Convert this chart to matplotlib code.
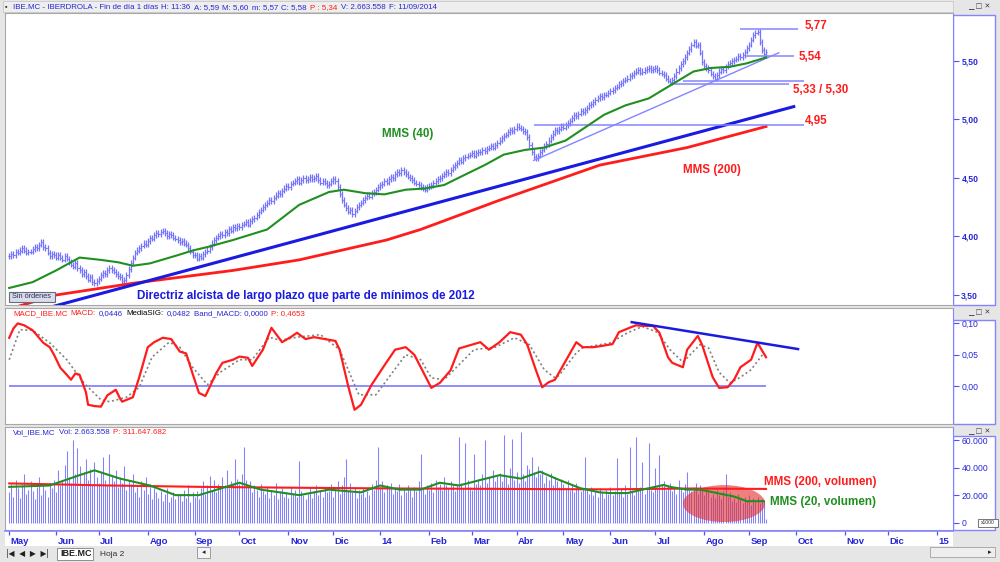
import numpy as np
import pandas as pd
import matplotlib
matplotlib.use('Agg')
import matplotlib.pyplot as plt
from matplotlib.patches import Ellipse, Rectangle

plt.rcParams['font.family'] = ['Liberation Sans', 'DejaVu Sans']

W, H = 1000, 562

# daily closes IBE.MC, 02/05/2013 .. 11/09/2014
close = [
    3.83, 3.85, 3.84, 3.87, 3.86, 3.88, 3.90, 3.88, 3.86, 3.87,
    3.87, 3.89, 3.91, 3.90, 3.93, 3.95, 3.91, 3.90, 3.86, 3.83,
    3.85, 3.84, 3.82, 3.84, 3.82, 3.80, 3.83, 3.81, 3.78, 3.76,
    3.74, 3.77, 3.73, 3.71, 3.68, 3.70, 3.66, 3.63, 3.65, 3.61,
    3.60, 3.62, 3.64, 3.67, 3.69, 3.68, 3.71, 3.73, 3.71, 3.70,
    3.68, 3.66, 3.65, 3.62, 3.63, 3.67, 3.72, 3.77, 3.82, 3.86,
    3.88, 3.90, 3.92, 3.94, 3.93, 3.96, 3.99, 3.98, 4.01, 4.03,
    4.02, 4.04, 4.05, 4.03, 4.00, 4.02, 4.01, 3.99, 3.98, 3.97,
    3.95, 3.96, 3.94, 3.93, 3.90, 3.87, 3.84, 3.84, 3.81, 3.83,
    3.82, 3.85, 3.87, 3.88, 3.91, 3.94, 3.97, 3.99, 4.00, 4.02,
    4.01, 4.04, 4.03, 4.06, 4.05, 4.08, 4.07, 4.09, 4.08, 4.10,
    4.11, 4.12, 4.10, 4.13, 4.15, 4.16, 4.18, 4.21, 4.23, 4.25,
    4.27, 4.29, 4.31, 4.30, 4.33, 4.35, 4.37, 4.36, 4.39, 4.41,
    4.43, 4.42, 4.45, 4.46, 4.47, 4.49, 4.46, 4.48, 4.50, 4.48,
    4.49, 4.51, 4.49, 4.50, 4.52, 4.48, 4.46, 4.47, 4.46, 4.44,
    4.45, 4.47, 4.49, 4.47, 4.42, 4.36, 4.31, 4.27, 4.24, 4.21,
    4.23, 4.19, 4.22, 4.25, 4.27, 4.29, 4.31, 4.33, 4.35, 4.34,
    4.37, 4.38, 4.40, 4.42, 4.44, 4.45, 4.47, 4.46, 4.49, 4.51,
    4.50, 4.53, 4.55, 4.54, 4.57, 4.55, 4.53, 4.51, 4.50, 4.48,
    4.46, 4.45, 4.44, 4.42, 4.41, 4.40, 4.42, 4.43, 4.44, 4.46,
    4.47, 4.49, 4.50, 4.52, 4.53, 4.55, 4.54, 4.57, 4.59, 4.61,
    4.63, 4.65, 4.64, 4.67, 4.68, 4.69, 4.70, 4.71, 4.69, 4.71,
    4.72, 4.72, 4.74, 4.73, 4.75, 4.76, 4.77, 4.76, 4.78, 4.80,
    4.82, 4.84, 4.86, 4.87, 4.89, 4.91, 4.90, 4.92, 4.94, 4.93,
    4.92, 4.90, 4.89, 4.85, 4.78, 4.72, 4.68, 4.67, 4.69, 4.72,
    4.74, 4.77, 4.79, 4.82, 4.85, 4.88, 4.91, 4.90, 4.92, 4.94,
    4.93, 4.95, 4.97, 4.99, 5.01, 5.04, 5.03, 5.05, 5.07, 5.06,
    5.08, 5.10, 5.12, 5.13, 5.15, 5.17, 5.18, 5.20, 5.19, 5.21,
    5.21, 5.23, 5.24, 5.25, 5.27, 5.28, 5.30, 5.31, 5.33, 5.34,
    5.35, 5.37, 5.38, 5.40, 5.41, 5.42, 5.40, 5.41, 5.42, 5.43,
    5.44, 5.42, 5.43, 5.44, 5.42, 5.40, 5.39, 5.38, 5.35, 5.33,
    5.32, 5.34, 5.37, 5.41, 5.44, 5.47, 5.50, 5.53, 5.57, 5.60,
    5.64, 5.66, 5.63, 5.64, 5.57, 5.49, 5.46, 5.44, 5.42, 5.39,
    5.37, 5.35, 5.38, 5.41, 5.43, 5.42, 5.45, 5.47, 5.48, 5.50,
    5.51, 5.52, 5.54, 5.53, 5.55, 5.58, 5.61, 5.64, 5.68, 5.72,
    5.74, 5.75, 5.66, 5.59, 5.56, 5.58,
]

# daily volume, thousands of shares
volume = [
    22, 28, 19, 31, 25, 18, 27, 35, 21, 24,
    30, 23, 17, 26, 33, 20, 28, 24, 19, 29,
    25, 31, 22, 38, 27, 30, 42, 52, 33, 29,
    60, 35, 54, 41, 28, 37, 46, 31, 39, 27,
    44, 33, 29, 36, 48, 31, 27, 50, 34, 30,
    38, 26, 33, 29, 41, 24, 31, 28, 35, 22,
    26, 19, 30, 24, 33, 21, 28, 17, 25, 22,
    18, 23, 16, 21, 25, 15, 19, 22, 17, 20,
    21, 16, 24, 18, 27, 15, 22, 19, 23, 17,
    25, 30, 21, 27, 34, 24, 31, 22, 28, 26,
    33, 27, 38, 25, 30, 29, 46, 32, 28, 35,
    55, 31, 26, 30, 22, 27, 24, 19, 28, 23,
    21, 26, 18, 24, 20, 29, 17, 23, 25, 19,
    22, 18, 26, 21, 24, 19, 45, 23, 20, 17,
    21, 25, 18, 23, 27, 20, 24, 19, 26, 22,
    23, 28, 19, 25, 30, 21, 27, 33, 46, 24,
    29, 22, 26, 18, 24, 21, 25, 19, 23, 20,
    28, 24, 31, 55, 26, 30, 22, 27, 25, 29,
    21, 26, 23, 28, 20, 25, 22, 27, 24, 19,
    26, 23, 30, 50, 25, 21, 27, 24, 29, 22,
    31, 26, 28, 24, 33, 27, 25, 30, 28, 23,
    27, 62, 29, 25, 58, 31, 26, 24, 50, 28,
    32, 27, 35, 60, 29, 33, 26, 38, 30, 34,
    36, 30, 64, 33, 28, 40, 61, 31, 37, 29,
    66, 35, 30, 42, 39, 48, 37, 33, 41, 35,
    38, 29, 34, 31, 36, 27, 33, 30, 26, 32,
    28, 25, 31, 24, 27, 22, 29, 26, 23, 25,
    48, 24, 21, 26, 20, 23, 19, 25, 22, 18,
    24, 21, 26, 20, 23, 47, 22, 25, 19, 27,
    21, 55, 24, 20, 62, 23, 26, 44, 21, 25,
    58, 24, 22, 40, 26, 49, 28, 30, 24, 27,
    29, 23, 26, 21, 31, 25, 22, 28, 37, 24,
    23, 26, 29, 21, 27, 24, 20, 25, 22, 19,
    21, 18, 24, 20, 17, 23, 35, 19, 22, 16,
    18, 15, 21, 17, 14, 19, 16, 20, 13, 18,
    15, 19, 14, 17, 16, 2.7,
]
assert len(close) == len(volume), (len(close), len(volume))

# moving averages as plotted (bar index, value)
ma40_idx = [0, 11, 22, 33, 43, 51, 58, 66, 79, 86, 93, 105, 121, 136, 150, 157, 167, 176, 186,
            195, 204, 214, 223, 232, 242, 251, 261, 270, 279, 289, 300, 310, 321, 329, 338, 346, 355]
ma40_val = [3.56, 3.61, 3.71, 3.82, 3.80, 3.78, 3.75, 3.77, 3.84, 3.88, 3.91, 3.97, 4.06, 4.27, 4.38,
            4.40, 4.37, 4.36, 4.40, 4.41, 4.44, 4.53, 4.61, 4.70, 4.74, 4.76, 4.82, 4.93, 5.04, 5.12,
            5.18, 5.29, 5.41, 5.44, 5.45, 5.48, 5.53]
ma200_idx = [0, 22, 58, 105, 136, 177, 193, 230, 277, 318, 355]
ma200_val = [3.38, 3.50, 3.60, 3.71, 3.80, 3.97, 4.06, 4.31, 4.61, 4.76, 4.94]

macd_idx = [0, 2, 4, 7, 11, 16, 19, 21, 24, 27, 29, 31, 33, 36, 37, 40, 43, 46, 50, 52,
            53, 58, 61, 65, 68, 72, 76, 80, 83, 86, 89, 92, 94, 97, 100, 105, 108, 112, 114, 119,
            123, 128, 132, 135, 139, 143, 148, 153, 155, 159, 162, 165, 170, 176, 181, 186, 190, 195, 198, 202,
            207, 211, 216, 221, 225, 230, 235, 240, 243, 247, 250, 253, 256, 262, 266, 269, 274, 278, 283, 286,
            291, 294, 297, 302, 305, 309, 311, 316, 318, 323, 325, 330, 333, 337, 340, 343, 348, 351, 355]
macd_val = [.077, .092, .100, .097, .089, .069, .062, .050, .029, .018,
            .010, .020, .018, -.010, -.030, -.032, -.033, -.015, -.006, -.020,
            -.025, -.018, .014, .062, .070, .077, .075, .055, .052, .020,
            -.011, -.016, -.002, .020, .037, .042, .047, .045, .032, .058,
            .093, .070, .078, .085, .075, .078, .075, .072, .058, .000,
            -.038, -.030, .002, .033, .058, .062, .050, .017, -.003, .005,
            .025, .060, .065, .070, .058, .070, .086, .082, .066, .026,
            -.002, .006, .010, .046, .070, .062, .062, .064, .067, .086,
            .093, .097, .096, .096, .085, .046, .037, .030, .058, .080,
            .066, .014, -.003, -.002, .010, .030, .042, .069, .046]
sig_idx = [0, 5, 11, 19, 27, 35, 43, 47, 55, 61, 67, 75, 80, 86, 93, 99, 108, 114, 122, 127,
           135, 146, 155, 160, 164, 172, 179, 186, 193, 198, 204, 211, 218, 228, 237, 244, 251, 256, 258, 266,
           269, 282, 290, 297, 304, 310, 316, 324, 328, 333, 338, 343, 348, 354]
sig_val = [.042, .090, .089, .069, .042, .005, -.022, -.025, -.018, -.002,
           .046, .070, .062, .030, .002, .022, .042, .042, .078, .073,
           .078, .082, .058, .018, -.014, -.014, .018, .050, .042, .013,
           .010, .034, .058, .062, .077, .066, .026, .013, .017, .053,
           .061, .069, .085, .095, .086, .058, .038, .066, .061, .022,
           .005, .014, .026, .053]

vma20_idx = [0, 19, 33, 40, 52, 66, 78, 89, 108, 118, 136, 150, 165, 174, 183, 193, 202, 211,
             221, 230, 240, 249, 258, 268, 277, 282, 290, 297, 307, 310, 318, 324, 332, 340, 346, 354]
vma20_val = [26, 27, 34.5, 38, 32, 27, 20, 20, 29, 24, 20, 24, 22, 27, 24, 24, 29, 27,
             31, 34.5, 32, 37, 31, 25, 22, 21.5, 21.5, 24, 27.4, 26, 24, 24, 21.5, 19, 15.6, 15.6]
vma200_idx = [0, 47, 90, 140, 185, 235, 280, 320, 355]
vma200_val = [28.5, 27.0, 26.0, 25.3, 24.8, 24.5, 24.2, 24.8, 24.5]

# analyst drawings
levels = [5.77, 5.54, 5.33, 5.30, 4.95]
level_start = [343, 345, 316, 310, 246]
level_end = [370, 368, 373, 366, 373]
long_trend_idx = [10, 368]
long_trend_val = [3.35, 5.11]
short_trend_idx = [246, 361]
short_trend_val = [4.65, 5.57]
macd_trend_idx = [292, 370]
macd_trend_val = [0.102, 0.059]

month_names = ['May', 'Jun', 'Jul', 'Ago', 'Sep', 'Oct', 'Nov', 'Dic', '14', 'Feb', 'Mar',
               'Abr', 'May', 'Jun', 'Jul', 'Ago', 'Sep', 'Oct', 'Nov', 'Dic', '15']

BLUE_BAR = '#7373ff'
VOL_BAR = '#8282ff'
TXT_BLUE = '#2626d8'
RED = '#ff1c1c'
GREEN = '#1f8f1f'
LINE_BLUE = '#8484ff'

days = pd.bdate_range('2013-05-02', '2015-01-30')
month_pos = days.searchsorted(pd.date_range('2013-05-01', '2015-01-01', freq='MS'))
idx = np.arange(len(close))
XLIM = (-1.97, 442.7)


def box(x0, y0, x1, y1):
    return [x0 / W, 1 - y1 / H, (x1 - x0) / W, (y1 - y0) / H]


def fig_rect(x0, y0, x1, y1, **kw):
    r = Rectangle((x0 / W, 1 - y1 / H), (x1 - x0) / W, (y1 - y0) / H,
                  transform=fig.transFigure, **kw)
    fig.add_artist(r)
    return r


def chain_text(x, y, parts, size=5.7, gap=3.2):
    # consecutive coloured pieces on one baseline
    rend = fig.canvas.get_renderer()
    for s, c in parts:
        t = fig.text(x / W, 1 - (y + 2) / H, s, color=c, fontsize=size, ha='left', va='baseline')
        x += t.get_window_extent(renderer=rend).width + gap


fig = plt.figure(figsize=(10, 5.62), dpi=100, facecolor='#e6e6e6')

# right axis boxes and header strip
fig_rect(953, 15, 995, 305, facecolor='white', edgecolor=LINE_BLUE, lw=1, zorder=-1)
fig_rect(953, 320, 995, 424, facecolor='white', edgecolor=LINE_BLUE, lw=1, zorder=-1)
fig_rect(953, 436, 995, 530, facecolor='white', edgecolor=LINE_BLUE, lw=1, zorder=-1)
fig_rect(3, 1, 953, 12, facecolor='#eeeeee', edgecolor='#c8c8c8', lw=0.6, zorder=-1)

ax_p = fig.add_axes(box(5, 13, 953, 305))
ax_m = fig.add_axes(box(5, 308, 953, 424))
ax_v = fig.add_axes(box(5, 427, 953, 530))
ax_d = fig.add_axes(box(5, 531, 953, 546))

for ax in (ax_p, ax_m, ax_v):
    ax.set_xlim(*XLIM)
    ax.set_xticks([])
    ax.yaxis.tick_right()
    for side in ('left', 'top', 'bottom'):
        ax.spines[side].set_color('#a8a8a8')
        ax.spines[side].set_linewidth(0.8)
    ax.spines['right'].set_color(LINE_BLUE)
    ax.tick_params(axis='y', direction='out', length=4, width=0.8, color='#5050ff',
                   labelcolor=TXT_BLUE, labelsize=6.2, pad=2)

# --- price panel: OHLC bars ---
opens = [close[0]] + close[:-1]
hi = [max(o, c) + 0.026 for o, c in zip(opens, close)]
lo = [min(o, c) - 0.022 for o, c in zip(opens, close)]
ax_p.vlines(idx, lo, hi, color=BLUE_BAR, lw=0.9, zorder=2)
ax_p.hlines(opens, idx - 0.5, idx, color=BLUE_BAR, lw=0.8, zorder=2)
ax_p.hlines(close, idx, idx + 0.5, color=BLUE_BAR, lw=0.8, zorder=2)

ax_p.plot(ma200_idx, ma200_val, color=RED, lw=2.0, zorder=3)
ax_p.plot(ma40_idx, ma40_val, color=GREEN, lw=1.5, zorder=4)
ax_p.plot(long_trend_idx, long_trend_val, color='#1a1ae0', lw=2.2, zorder=3)
ax_p.plot(short_trend_idx, short_trend_val, color=LINE_BLUE, lw=1.0, zorder=3)
for lv, a, b in zip(levels, level_start, level_end):
    ax_p.hlines(lv, a, b, color=LINE_BLUE, lw=1.1, zorder=3)

ax_p.set_ylim(3.4145, 5.910)
ax_p.set_yticks([3.5, 4.0, 4.5, 5.0, 5.5])
ax_p.set_yticklabels(['3,50', '4,00', '4,50', '5,00', '5,50'], fontweight='bold')

ann = dict(fontsize=8.4, fontweight='bold', ha='left', va='center')
ax_p.text(373, 5.80, '5,77', color=RED, **ann)
ax_p.text(370.5, 5.533, '5,54', color=RED, **ann)
ax_p.text(367.7, 5.252, '5,33 / 5,30', color=RED, **ann)
ax_p.text(373, 4.987, '4,95', color=RED, **ann)
ax_p.text(175, 4.876, 'MMS (40)', color=GREEN, **ann)
ax_p.text(316, 4.568, 'MMS (200)', color=RED, **ann)
ax_p.text(60, 3.49, 'Directriz alcista de largo plazo que parte de mínimos de 2012', color='#1a1ae0', **ann)

# --- MACD panel ---
ax_m.hlines(0, 0, len(close) - 1, color=LINE_BLUE, lw=1.3, zorder=2)
ax_m.plot(sig_idx, sig_val, color='#808080', lw=1.2, ls=(0, (1.2, 1.6)), zorder=3)
ax_m.plot(macd_idx, macd_val, color=RED, lw=1.6, zorder=4)
ax_m.plot(macd_trend_idx, macd_trend_val, color='#1a1ae0', lw=1.8, zorder=4)
ax_m.set_ylim(-0.0607, 0.1246)
ax_m.set_yticks([0.0, 0.05, 0.10])
ax_m.set_yticklabels(['0,00', '0,05', '0,10'])

# --- volume panel ---
ax_v.vlines(idx, 0, volume, color=VOL_BAR, lw=0.75, zorder=2)
ax_v.add_patch(Ellipse((335.3, 13.9), 38.5, 26.8, facecolor='#e42c2c', alpha=0.6,
                       edgecolor='none', zorder=3))
ax_v.plot(vma200_idx, vma200_val, color=RED, lw=1.5, zorder=4)
ax_v.plot(vma20_idx, vma20_val, color=GREEN, lw=1.5, zorder=5)
ax_v.set_ylim(-5.3, 69.45)
ax_v.set_yticks([0, 20, 40, 60])
ax_v.set_yticklabels(['0', '20.000', '40.000', '60.000'])
ax_v.text(354, 29.5, 'MMS (200, volumen)', color=RED, **ann)
ax_v.text(357, 15.0, 'MMS (20, volumen)', color=GREEN, **ann)

# --- date strip ---
ax_d.set_xlim(*XLIM)
ax_d.set_ylim(0, 1)
ax_d.set_xticks([])
ax_d.set_yticks([])
for side in ('left', 'right', 'bottom'):
    ax_d.spines[side].set_visible(False)
ax_d.spines['top'].set_color(LINE_BLUE)
ax_d.spines['top'].set_linewidth(1.2)
ax_d.vlines(month_pos, 0.72, 1.0, color='#5050ff', lw=0.9)
for p, name in zip(month_pos, month_names):
    ax_d.text(p + 0.7, 0.3, name, color=TXT_BLUE, fontsize=6.8, fontweight='bold',
              ha='left', va='center')

# headers
chain_text(13, 7, [('IBE.MC - IBERDROLA - Fin de día 1 días', TXT_BLUE), ('H: 11:36', TXT_BLUE),
                   ('A: 5,59', TXT_BLUE), ('M: 5,60', TXT_BLUE), ('m: 5,57', TXT_BLUE),
                   ('C: 5,58', TXT_BLUE), ('P : 5,34', RED), ('V: 2.663.558', TXT_BLUE),
                   ('F: 11/09/2014', TXT_BLUE)])
chain_text(13, 313, [('MACD_IBE.MC', RED), ('MACD:', RED), ('0,0446', TXT_BLUE), ('MediaSIG:', 'black'),
                     ('0,0482', TXT_BLUE), ('Band_MACD: 0,0000', TXT_BLUE), ('P: 0,4653', RED)])
chain_text(13, 432, [('Vol_IBE.MC', TXT_BLUE), ('Vol: 2.663.558', TXT_BLUE), ('P: 311.647.682', RED)])
fig.text(5 / W, 1 - 7 / H, '▪', fontsize=5, color='#333333', va='center')

# window buttons
for yb in (7, 313, 432):
    fig.text(968 / W, 1 - yb / H, '▁ □ ✕', fontsize=5, color='#404040', va='center',
             family=['DejaVu Sans'])

# small widgets
fig_rect(9, 292, 55, 302, facecolor='#d9dee8', edgecolor='#6a6a80', lw=0.8, zorder=5)
fig.text(32 / W, 1 - 297 / H, 'Sin órdenes', fontsize=5.3, color='#2a2a60', ha='center', va='center',
         zorder=6)
fig_rect(978, 519, 998, 527, facecolor='white', edgecolor='#606060', lw=0.6, zorder=5)
fig.text(988 / W, 1 - 523 / H, 'x1000', fontsize=3.6, color='#303030', ha='center', va='center',
         zorder=6)

# bottom sheet tabs
fig.text(6 / W, 1 - 554 / H, '|◀  ◀  ▶  ▶|', fontsize=5.5, color='#202020', va='center',
         family=['DejaVu Sans'])
fig_rect(57, 548, 93, 560, facecolor='white', edgecolor='#808080', lw=0.6)
fig.text(60 / W, 1 - 554 / H, 'IBE.MC', fontsize=6.5, fontweight='bold', color='#202020', va='center')
fig.text(100 / W, 1 - 554 / H, 'Hoja 2', fontsize=6, color='#303030', va='center')
fig_rect(197, 547, 210, 558, facecolor='#f4f4f4', edgecolor='#909090', lw=0.6)
fig.text(203.5 / W, 1 - 552.5 / H, '◂', fontsize=5, color='#202020', ha='center', va='center',
         family=['DejaVu Sans'])
fig_rect(930, 547, 995, 557, facecolor='#eeeeee', edgecolor='#a0a0a0', lw=0.6)
fig.text(990 / W, 1 - 552 / H, '▸', fontsize=5, color='#202020', ha='center', va='center',
         family=['DejaVu Sans'])

fig.savefig('out.png', dpi=100, facecolor=fig.get_facecolor())
